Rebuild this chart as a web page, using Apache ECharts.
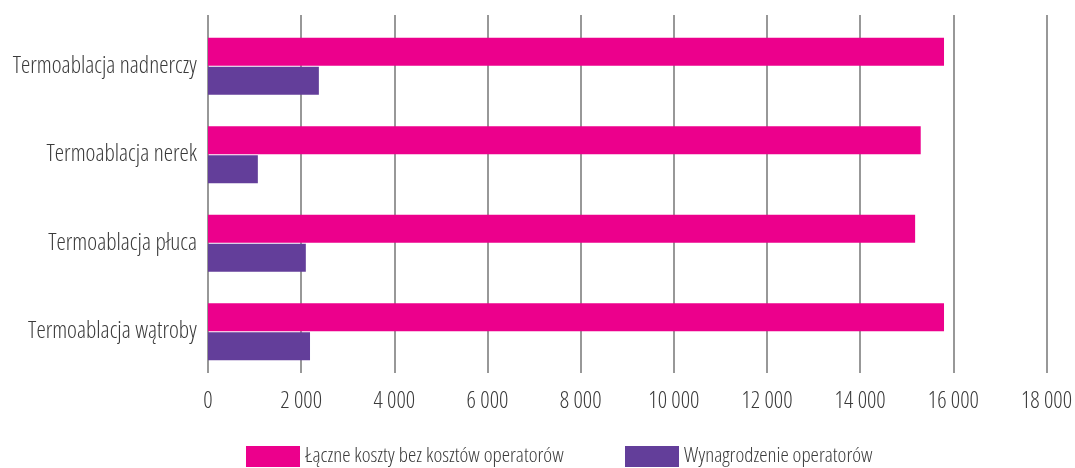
<!DOCTYPE html>
<html>
<head>
<meta charset="utf-8">
<script src="https://cdn.jsdelivr.net/npm/echarts@6/dist/echarts.min.js"></script>
<style>
  html, body { margin: 0; padding: 0; background: #fff; }
  #chart { width: 1075px; height: 468px; }
</style>
</head>
<body>
<div id="chart"></div>
<script>
// Procedures, listed top to bottom
const categories = [
  'Termoablacja nadnerczy',
  'Termoablacja nerek',
  'Termoablacja płuca',
  'Termoablacja wątroby'
];
const seriesNames = ['Łączne koszty bez kosztów operatorów', 'Wynagrodzenie operatorów'];
// Costs per procedure (PLN)
const totalCosts = [15800, 15300, 15180, 15800];
const operatorPay = [2380, 1070, 2100, 2190];
const xTicks = { min: 0, max: 18000, interval: 2000 };

// Condensed cut of Open Sans; 'condensed' lands in the font-stretch slot of the canvas font string
const FONT = '"Open Sans", sans-serif';
const STRETCH = 'condensed';
const TEXT = '#3a3a3a';
const PINK = '#ec008c';
const PURPLE = '#633e9a';

const chart = echarts.init(document.getElementById('chart'), null, { renderer: 'canvas' });

const fmt = v => String(v).replace(/\B(?=(\d{3})+(?!\d))/g, ' ');
const textStyle = size => ({
  color: TEXT, fontFamily: FONT, fontStyle: STRETCH, fontWeight: 300, fontSize: size
});

chart.setOption({
  animation: false,
  grid: [
    // gridlines and value labels
    { left: 208, right: 28.5, top: 15, bottom: 95, outerBoundsMode: 'none', containLabel: false },
    // bars and category labels
    { left: 208, right: 28.5, top: 22, bottom: 92, outerBoundsMode: 'none', containLabel: false }
  ],
  xAxis: [
    {
      gridIndex: 0, type: 'value', min: xTicks.min, max: xTicks.max, interval: xTicks.interval,
      axisLine: { show: false }, axisTick: { show: false },
      splitLine: { show: true, lineStyle: { color: '#767676', width: 1.5 } },
      axisLabel: Object.assign(textStyle(23), { margin: 17, formatter: fmt })
    },
    {
      gridIndex: 1, type: 'value', min: xTicks.min, max: xTicks.max, interval: xTicks.interval,
      show: false
    }
  ],
  yAxis: [
    { gridIndex: 0, type: 'category', data: categories, inverse: true, show: false },
    {
      gridIndex: 1, type: 'category', data: categories, inverse: true,
      axisLine: { show: false }, axisTick: { show: false },
      axisLabel: Object.assign(textStyle(23.5), { margin: 11 })
    }
  ],
  legend: [
    {
      data: [seriesNames[0]], left: 241, top: 441, itemWidth: 54, itemHeight: 21,
      itemGap: 0, icon: 'rect', textStyle: textStyle(21)
    },
    {
      data: [seriesNames[1]], left: 620, top: 441, itemWidth: 54, itemHeight: 21,
      itemGap: 0, icon: 'rect', textStyle: textStyle(21)
    }
  ],
  series: [
    {
      name: seriesNames[0], type: 'bar', xAxisIndex: 1, yAxisIndex: 1,
      data: totalCosts, barWidth: 28, barGap: '4%',
      itemStyle: { color: PINK }
    },
    {
      name: seriesNames[1], type: 'bar', xAxisIndex: 1, yAxisIndex: 1,
      data: operatorPay, barWidth: 28, barGap: '4%',
      itemStyle: { color: PURPLE }
    }
  ]
});
</script>
</body>
</html>
